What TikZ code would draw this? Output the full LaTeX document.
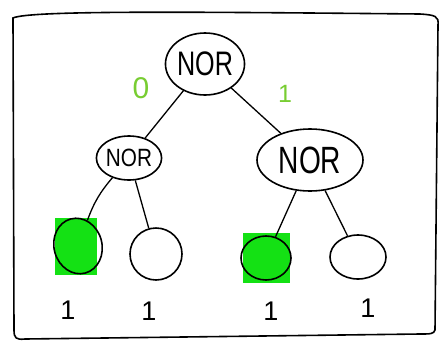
\documentclass[tikz,border=0pt]{standalone}
\usepackage{fontspec}
\setmainfont{Liberation Sans}
\usetikzlibrary{shapes.geometric}
\definecolor{leafgreen}{RGB}{20,225,20}
\definecolor{valgreen}{RGB}{120,205,50}
% narrowed gate caption: #1 = font size, #2 = horizontal squeeze
\newcommand{\gatetext}[2]{\fontsize{#1}{#1}\selectfont\scalebox{#2}[1]{NOR}}
\begin{document}
\begin{tikzpicture}[x=1pt,y=-1pt,
  ink/.style={line width=1.6pt,black},
  gate/.style={ellipse,draw,ink,inner sep=0pt},
  leaf/.style={ellipse,draw,ink,inner sep=0pt},
  wire/.style={line width=1.3pt,black},
  val/.style={text=valgreen},
  inval/.style={font=\fontsize{27}{27}\selectfont}]
\useasboundingbox (0,0) rectangle (441,343);
% sketched frame
\draw[ink] (13,18) .. controls (30,10) and (200,12) .. (420,14)
  .. controls (435,15) and (439,16) .. (438,25)
  -- (435,330) .. controls (434,334) and (430,334) .. (420,334)
  -- (25,339) .. controls (16,340) and (14,338) .. (14,330) -- cycle;
% gates
\node[gate,minimum width=76pt,minimum height=62pt] (root) at (205,64) {\gatetext{34}{0.74}};
\node[gate,minimum width=64pt,minimum height=44pt] (lnor) at (129,158) {\gatetext{25}{0.83}};
\node[gate,minimum width=106pt,minimum height=62pt] (rnor) at (310,160) {\gatetext{38}{0.74}};
% inputs
\fill[leafgreen] (55,218) rectangle (97,275);
\node[leaf,minimum width=48pt,minimum height=56pt,rotate=15] (a) at (78,246) {};
\node[leaf,minimum width=52pt,minimum height=52pt] (b) at (156,254) {};
\fill[leafgreen] (243,233) rectangle (290,283);
\node[leaf,minimum width=50pt,minimum height=44pt] (c) at (266,258) {};
\node[leaf,minimum width=56pt,minimum height=44pt] (d) at (358,257) {};
% wires
\draw[wire] (root) -- (lnor);
\draw[wire] (root) -- (rnor);
\draw[wire] (lnor) to[bend right=10] (a);
\draw[wire] (lnor) -- (b);
\draw[wire] (rnor) -- (c);
\draw[wire] (rnor) -- (d);
% gate outputs
\node[val,font=\fontsize{30}{30}\selectfont] (v0) at (141,88) {0};
\node[val,font=\fontsize{25}{25}\selectfont] (v1) at (285,94) {1};
% input values
\node[inval] (ia) at (68,310) {1};
\node[inval] (ib) at (149,311) {1};
\node[inval] (ic) at (271,311) {1};
\node[inval] (id) at (368,308) {1};
\end{tikzpicture}
\end{document}
